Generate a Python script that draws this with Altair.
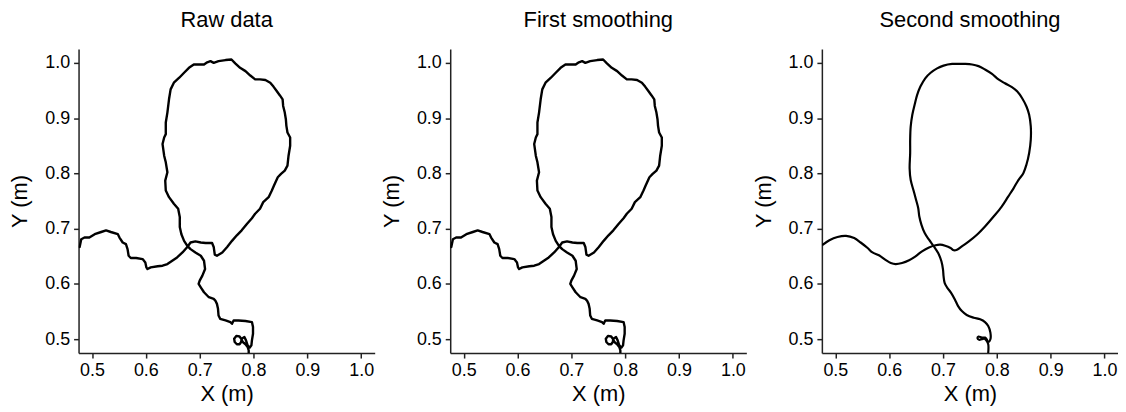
import altair as alt
import pandas as pd

panel_titles = ["Raw data", "First smoothing", "Second smoothing"]
tick_values = [0.5, 0.6, 0.7, 0.8, 0.9, 1.0]
axis_domain = [0.475, 1.025]

raw_x = [0.477,0.480,0.486,0.495,0.505,0.517,0.526,0.535,0.548,0.551,
         0.557,0.563,0.566,0.568,0.572,0.582,0.594,0.599,0.601,0.603,
         0.609,0.622,0.631,0.640,0.649,0.658,0.668,0.677,0.683,0.692,
         0.702,0.711,0.723,0.726,0.728,0.732,0.742,0.751,0.760,0.769,
         0.778,0.788,0.797,0.803,0.812,0.818,0.828,0.834,0.838,0.845,
         0.851,0.858,0.863,0.865,0.868,0.868,0.863,0.861,0.860,0.858,
         0.855,0.854,0.849,0.843,0.837,0.831,0.822,0.812,0.803,0.794,
         0.785,0.775,0.766,0.759,0.748,0.735,0.726,0.720,0.714,0.708,
         0.698,0.689,0.680,0.671,0.662,0.652,0.646,0.643,0.640,0.637,
         0.637,0.634,0.631,0.634,0.637,0.640,0.636,0.637,0.643,0.652,
         0.660,0.663,0.663,0.666,0.671,0.677,0.683,0.692,0.702,0.708,
         0.710,0.705,0.700,0.698,0.702,0.708,0.717,0.726,0.729,0.732,
         0.734,0.735,0.738,0.748,0.757,0.760,0.763,0.772,0.785,0.797,
         0.799,0.799,0.797,0.796,0.793,0.789,0.786,0.783,0.778,0.777,
         0.774,0.769,0.765,0.764,0.768,0.774,0.777,0.780,0.785,0.789,
         0.791,0.791]
raw_y = [0.667,0.681,0.684,0.684,0.690,0.694,0.697,0.694,0.690,0.684,
         0.675,0.672,0.663,0.651,0.647,0.647,0.645,0.639,0.630,0.627,
         0.630,0.632,0.633,0.636,0.642,0.648,0.657,0.667,0.675,0.677,
         0.675,0.674,0.674,0.667,0.653,0.651,0.657,0.667,0.678,0.688,
         0.697,0.709,0.719,0.727,0.736,0.748,0.757,0.769,0.778,0.793,
         0.799,0.805,0.814,0.832,0.850,0.865,0.874,0.886,0.898,0.910,
         0.922,0.934,0.941,0.949,0.957,0.964,0.969,0.970,0.970,0.977,
         0.985,0.991,0.999,1.006,1.005,1.003,1.000,1.003,1.001,0.997,
         0.997,0.997,0.991,0.982,0.973,0.964,0.952,0.934,0.910,0.892,
         0.871,0.865,0.853,0.832,0.820,0.802,0.787,0.769,0.757,0.745,
         0.736,0.721,0.703,0.690,0.678,0.669,0.663,0.657,0.651,0.642,
         0.627,0.615,0.606,0.600,0.594,0.585,0.576,0.573,0.570,0.564,
         0.555,0.543,0.537,0.534,0.531,0.528,0.534,0.534,0.533,0.531,
         0.522,0.510,0.498,0.489,0.485,0.489,0.498,0.504,0.501,0.495,
         0.491,0.491,0.495,0.501,0.506,0.505,0.501,0.495,0.491,0.486,
         0.480,0.474]

# first smoothing is visually indistinguishable from the raw trace
first_x = list(raw_x)
first_y = list(raw_y)

second_x = [0.477,0.489,0.504,0.520,0.535,0.547,0.560,0.569,0.581,0.594,
            0.603,0.612,0.624,0.637,0.649,0.661,0.674,0.686,0.695,0.704,
            0.714,0.720,0.726,0.735,0.748,0.763,0.778,0.794,0.809,0.821,
            0.831,0.840,0.849,0.855,0.860,0.863,0.863,0.860,0.855,0.847,
            0.838,0.828,0.815,0.803,0.791,0.778,0.766,0.754,0.741,0.729,
            0.717,0.701,0.689,0.677,0.667,0.658,0.652,0.648,0.643,0.640,
            0.639,0.639,0.638,0.640,0.645,0.650,0.654,0.656,0.660,0.666,
            0.674,0.683,0.691,0.697,0.700,0.701,0.703,0.708,0.715,0.722,
            0.728,0.735,0.744,0.757,0.769,0.778,0.784,0.788,0.788,0.784,
            0.781,0.778,0.772,0.766,0.764,0.767,0.772,0.777,0.781,0.784,
            0.784]
second_y = [0.671,0.679,0.685,0.687,0.683,0.675,0.665,0.657,0.652,0.643,
            0.638,0.636,0.638,0.643,0.650,0.659,0.666,0.670,0.671,0.669,
            0.665,0.661,0.662,0.668,0.677,0.689,0.704,0.722,0.740,0.758,
            0.773,0.788,0.800,0.816,0.837,0.861,0.885,0.906,0.921,0.936,
            0.948,0.956,0.963,0.970,0.980,0.988,0.994,0.997,0.998,0.998,
            0.998,0.995,0.990,0.982,0.972,0.957,0.942,0.927,0.906,0.885,
            0.861,0.837,0.809,0.788,0.770,0.752,0.737,0.722,0.707,0.692,
            0.680,0.668,0.656,0.641,0.626,0.614,0.602,0.593,0.584,0.572,
            0.560,0.551,0.544,0.539,0.536,0.531,0.524,0.512,0.500,0.495,
            0.500,0.503,0.503,0.505,0.502,0.499,0.500,0.501,0.497,0.491,
            0.476]

FONT = "Liberation Sans"


def panel(xs, ys, title, interp, sw):
    df = pd.DataFrame({"i": list(range(len(xs))), "x": xs, "y": ys})
    scale = alt.Scale(domain=axis_domain, nice=False, zero=False)
    return (
        alt.Chart(df, title=alt.Title(title))
        .mark_line(color="black", strokeWidth=sw, clip=True,
                   interpolate=interp, strokeJoin="round", strokeCap="round")
        .encode(
            x=alt.X("x:Q", scale=scale,
                    axis=alt.Axis(values=tick_values, format=".1f", title="X (m)")),
            y=alt.Y("y:Q", scale=scale,
                    axis=alt.Axis(values=tick_values, format=".1f", title="Y (m)")),
            order=alt.Order("i:Q"),
        )
        .properties(width=298, height=306)
    )


chart = (
    alt.hconcat(
        panel(raw_x, raw_y, panel_titles[0], "linear", 2.4),
        panel(first_x, first_y, panel_titles[1], "linear", 2.4),
        panel(second_x, second_y, panel_titles[2], "catmull-rom", 2.2),
        spacing=5,
    )
    .configure_view(stroke=None)
    .configure_axis(
        grid=False,
        domainColor="#222222",
        domainWidth=1.5,
        tickColor="#222222",
        tickWidth=1.5,
        tickSize=5,
        labelColor="black",
        labelFont=FONT,
        labelFontSize=18,
        labelPadding=4,
        titleFont=FONT,
        titleFontSize=22,
        titleFontWeight="normal",
        titleColor="black",
    )
    .configure_axisX(titlePadding=4)
    .configure_axisY(titlePadding=13)
    .configure_title(font=FONT, fontSize=22, fontWeight="normal",
                     color="black", anchor="middle", offset=17)
    .properties(padding={"left": 0, "top": 0, "right": 0, "bottom": 0})
)

chart.save("out.html", embed_options={"renderer": "svg", "actions": False})
